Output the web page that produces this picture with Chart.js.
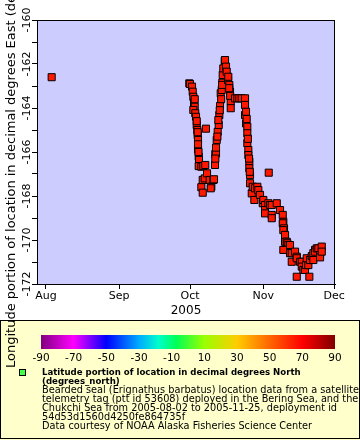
<!DOCTYPE html>
<html><head><meta charset="utf-8">
<script src="https://cdn.jsdelivr.net/npm/chart.js@4"></script>
<style>html,body{margin:0;padding:0;background:#fff}#w{width:360px;height:440px}</style>
</head><body><div id="w"><canvas id="c" width="360" height="440"></canvas></div>
<script>
// days since 2005-08-01 (fractional)
const days = [2.41,
 60.70,61.00,61.85,62.14,62.40,62.69,62.99,62.40,63.24,63.54,63.84,64.09,64.26,64.39,64.39,64.68,64.81,64.68,
 63.00,63.84,64.26,64.39,64.60,
 65.79,66.63,66.38,65.79,66.38,67.23,67.46,67.76,68.21,69.34,70.02,70.87,71.16,69.77,
 71.59,71.72,72.01,72.31,72.73,73.16,73.41,73.71,74.00,74.43,74.68,74.85,75.10,75.70,75.83,
 71.72,72.01,72.60,73.00,73.60,74.20,74.60,
 76.25,76.54,77.10,77.22,77.65,77.94,78.24,78.24,77.60,78.00,
 80.06,81.04,81.88,82.90,84.30,84.30,84.30,84.72,84.72,85.27,85.27,85.27,85.70,85.70,86.12,86.12,86.42,86.42,
 85.00,85.50,86.00,86.30,
 87.14,87.56,88.24,88.53,89.51,89.93,90.65,91.80,92.05,92.77,92.77,92.77,94.17,94.34,94.89,95.61,95.61,95.61,
 97.73,99.12,100.27,100.52,100.27,100.82,100.52,101.24,101.24,101.96,102.22,102.64,101.24,100.52,
 103.36,103.36,104.08,105.48,104.08,106.20,106.20,107.60,108.32,108.32,109.00,109.71,110.14,111.11,111.54,106.20,
 110.43,111.83,112.55,113.23,113.23,113.95,113.95,114.67,115.35,116.07,116.07,116.79,116.79];
// longitude, degrees east
const lons = [-162.60,
 -162.88,-162.91,-163.03,-163.26,-163.49,-163.76,-163.94,-164.09,-164.24,-164.40,-164.77,-165.00,-165.23,-165.45,-165.88,-166.21,-166.36,-166.64,
 -163.60,-164.60,-165.10,-165.65,-166.00,
 -166.67,-166.64,-167.27,-167.60,-167.85,-167.20,-166.59,-164.94,-166.97,-167.27,-167.58,-167.27,-167.24,-167.65,
 -166.59,-166.09,-166.06,-165.45,-165.08,-164.77,-164.32,-163.91,-163.33,-163.18,-162.85,-162.50,-162.20,-161.85,-161.82,
 -166.30,-165.80,-165.30,-164.55,-164.10,-163.60,-162.95,
 -162.12,-162.35,-162.73,-162.58,-162.95,-163.26,-163.71,-164.01,-163.10,-163.45,
 -163.56,-163.56,-163.56,-163.56,-163.56,-163.86,-164.32,-164.17,-164.70,-164.85,-165.15,-165.60,-165.91,-166.14,-166.44,-166.74,-167.05,-167.42,
 -164.50,-165.40,-166.30,-166.90,
 -167.88,-167.58,-168.18,-167.65,-167.58,-167.73,-167.95,-168.33,-168.18,-168.41,-168.64,-168.79,-168.33,-166.94,-168.41,-168.86,-169.01,-168.41,
 -168.33,-168.64,-168.86,-169.17,-169.24,-169.47,-169.55,-169.77,-170.08,-170.08,-170.15,-170.23,-170.45,-170.45,
 -170.23,-170.60,-170.60,-170.53,-170.99,-170.76,-170.83,-170.99,-170.99,-171.21,-171.36,-171.36,-171.14,-171.14,-171.67,-171.67,
 -170.83,-170.91,-170.73,-170.60,-170.91,-170.45,-170.53,-170.38,-170.38,-170.68,-170.79,-170.30,-170.53];

const monthDays = [0, 31, 61, 92, 122];
const monthLabels = ['Aug', 'Sep', 'Oct', 'Nov', 'Dec'];
const xTitle = '2005';
const yTitle = 'Longitude portion of location in decimal degrees East (degrees_east)';
const yMin = -172, yMax = -160;
const xMin = -3.8, xMax = 122.4;
const colorbarTicks = [-90, -70, -50, -30, -10, 10, 30, 50, 70, 90];
const legendBold = ['Latitude portion of location in decimal degrees North', '(degrees_north)'];
const legendLines = [
 'Bearded seal (Erignathus barbatus) location data from a satellite',
 'telemetry tag (ptt id 53608) deployed in the Bering Sea, and the',
 'Chukchi Sea from 2005-08-02 to 2005-11-25, deployment id',
 '54d53d1560d4250fe864735f',
 'Data courtesy of NOAA Alaska Fisheries Science Center'];

const FONT = '"DejaVu Sans", sans-serif';
const COND = '"DejaVu Sans Condensed", "DejaVu Sans", sans-serif';

const points = days.map((d, i) => ({x: d, y: lons[i]}));

function fitFont(ctx, weight, family, text, target) {
  ctx.font = weight + ' 10px ' + family;
  const w = ctx.measureText(text).width;
  const size = 10 * target / w;
  return weight + ' ' + size.toFixed(2) + 'px ' + family;
}

const deco = {
  id: 'deco',
  beforeDraw(chart) {
    const ctx = chart.ctx, a = chart.chartArea;
    ctx.save();
    ctx.fillStyle = '#fff';
    ctx.fillRect(0, 0, chart.width, chart.height);
    // legend box
    ctx.fillStyle = '#ffffcc';
    ctx.fillRect(0, 320, 360, 120);
    ctx.strokeStyle = '#000';
    ctx.lineWidth = 1;
    ctx.strokeRect(0.5, 320.5, 359, 118);
    // colorbar
    const cx = 41, cw = 294, cy = 335, ch = 14;
    const g = ctx.createLinearGradient(cx, 0, cx + cw, 0);
    g.addColorStop(0, '#800080');
    g.addColorStop(0.111, '#ff00ff');
    g.addColorStop(0.222, '#0000ff');
    g.addColorStop(0.333, '#00aaff');
    g.addColorStop(0.40, '#00ffcc');
    g.addColorStop(0.46, '#00ff55');
    g.addColorStop(0.555, '#99ff00');
    g.addColorStop(0.667, '#ffcc00');
    g.addColorStop(0.778, '#ff6600');
    g.addColorStop(0.889, '#ff0000');
    g.addColorStop(1, '#800000');
    ctx.fillStyle = g;
    ctx.fillRect(cx, cy, cw, ch);
    ctx.fillStyle = '#000';
    ctx.font = '10.5px ' + FONT;
    ctx.textAlign = 'center';
    ctx.textBaseline = 'middle';
    colorbarTicks.forEach(v => {
      ctx.fillText(String(v), cx + (v + 90) / 180 * cw, 358);
    });
    // legend marker
    ctx.fillStyle = '#44ff44';
    ctx.fillRect(19.5, 369.5, 6, 6);
    ctx.strokeRect(19.5, 369.5, 6, 6);
    // legend text
    ctx.fillStyle = '#000';
    ctx.textAlign = 'left';
    ctx.font = fitFont(ctx, 'bold', COND, legendBold[0], 259);
    legendBold.forEach((t, i) => ctx.fillText(t, 42, 372.5 + i * 9));
    ctx.font = fitFont(ctx, 'normal', FONT, legendLines[4], 270);
    legendLines.forEach((t, i) => ctx.fillText(t, 42, 390.5 + i * 9.1));
    // plot background
    ctx.fillStyle = '#ccccff';
    ctx.fillRect(a.left, a.top, a.right - a.left, a.bottom - a.top);
    ctx.restore();
  },
  afterDraw(chart) {
    const ctx = chart.ctx, a = chart.chartArea;
    ctx.save();
    ctx.strokeStyle = '#000';
    ctx.lineWidth = 1;
    ctx.strokeRect(Math.round(a.left) + 0.5, Math.round(a.top) + 0.5, Math.round(a.right - a.left) - 1, Math.round(a.bottom - a.top));
    ctx.translate(12, 368);
    ctx.rotate(-Math.PI / 2);
    ctx.fillStyle = '#000';
    ctx.font = '13px ' + FONT;
    ctx.textAlign = 'left';
    ctx.textBaseline = 'middle';
    ctx.fillText(yTitle, 0, 0);
    ctx.restore();
  }
};

new Chart(document.getElementById('c'), {
  type: 'scatter',
  data: {datasets: [{
    data: points,
    pointStyle: 'rect',
    pointRadius: 5,
    pointHoverRadius: 5,
    backgroundColor: '#ff1800',
    borderColor: '#000',
    borderWidth: 1
  }]},
  options: {
    responsive: false,
    devicePixelRatio: 1,
    animation: false,
    events: [],
    layout: {padding: {left: 0, top: 20, right: 25, bottom: 120}},
    plugins: {legend: {display: false}, tooltip: {enabled: false}},
    scales: {
      x: {
        type: 'linear', min: xMin, max: xMax,
        afterFit(s) { s.height = 36; },
        afterBuildTicks(s) { s.ticks = monthDays.map(v => ({value: v})); },
        ticks: {
          autoSkip: false, maxRotation: 0, padding: 1, color: '#000',
          font: {family: FONT, size: 11},
          callback: v => monthLabels[monthDays.indexOf(v)]
        },
        grid: {drawOnChartArea: false, tickLength: 5, color: '#000', tickColor: '#000'},
        border: {display: true, color: '#000'},
        title: {display: true, text: xTitle, color: '#000', font: {family: FONT, size: 12}, padding: {top: 0, bottom: 2}}
      },
      y: {
        type: 'linear', min: yMin, max: yMax,
        afterFit(s) { s.width = 37; },
        ticks: {
          stepSize: 1, autoSkip: false, minRotation: 90, maxRotation: 90,
          crossAlign: 'center', padding: -8, color: '#000',
          font: {family: FONT, size: 11},
          callback: v => (v % 2 === 0 ? String(v) : '')
        },
        grid: {drawOnChartArea: false, tickLength: 5, color: '#000', tickColor: '#000'},
        border: {display: true, color: '#000'}
      }
    }
  },
  plugins: [deco]
});
</script>
</body></html>
